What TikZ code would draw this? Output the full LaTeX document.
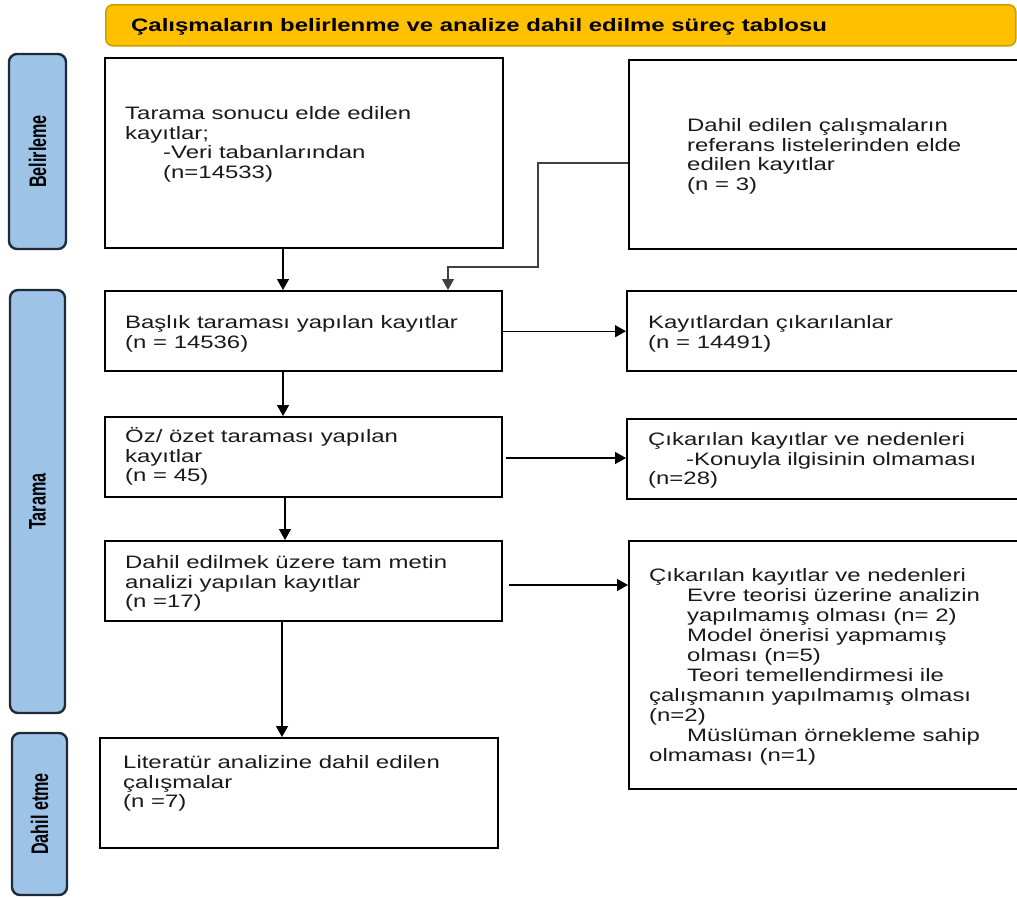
\documentclass[tikz,border=0pt]{standalone}
\usepackage{graphicx}
\usepackage{fontspec}
\setmainfont{Liberation Sans}[FakeStretch=1.33]
\newfontfamily\labfont{Liberation Sans}[FakeStretch=0.9]
\usetikzlibrary{arrows.meta}
\definecolor{gold}{HTML}{FFC000}
\definecolor{goldedge}{HTML}{C9A000}
\definecolor{lblue}{HTML}{9DC3E6}
\definecolor{ledge}{HTML}{1E2A36}
\definecolor{txtc}{HTML}{1A1A1A}
\newcommand{\fl}{\rule{0pt}{17pt}}
\newcommand{\ind}{\hspace*{38pt}}
\tikzset{
  box/.style={draw=black, line width=2.4pt, fill=white, anchor=north west, inner sep=0pt},
  lab/.style={draw=ledge, line width=2.4pt, fill=lblue, rounded corners=8pt, inner sep=0pt},
  titlebox/.style={draw=goldedge, line width=1.6pt, fill=gold, rounded corners=7pt, anchor=north west, inner sep=0pt},
  txt/.style={anchor=north west, inner sep=0pt, align=left, text=txtc, font=\fontsize{18}{19.8}\selectfont},
  arr/.style={line width=1.3pt, -{Triangle[length=11pt,width=12pt]}},
  arrthin/.style={line width=1.1pt, draw=black!75, -{Triangle[length=11pt,width=12pt]}}
}
\begin{document}
\begin{tikzpicture}[x=1pt,y=-1pt]
\useasboundingbox (0,0) rectangle (1017,897);
% title
\node[titlebox, minimum width=910, minimum height=41] (tb) at (105,4) {};
\node[anchor=base west, inner sep=0pt, font=\fontsize{18}{20}\selectfont\bfseries] (tt) at (131,31.5) {Çalışmaların belirlenme ve analize dahil edilme süreç tablosu};
% side labels
\node[lab, minimum width=57, minimum height=195] (l1) at (37.5,151.5) {\rotatebox{90}{\scalebox{1}[1.33]{\labfont\fontsize{18}{20}\selectfont\bfseries Belirleme}}};
\node[lab, minimum width=55, minimum height=423] (l2) at (37.5,501.5) {\rotatebox{90}{\scalebox{1}[1.33]{\labfont\fontsize{18}{20}\selectfont\bfseries Tarama}}};
\node[lab, minimum width=55, minimum height=162] (l3) at (39.5,814) {\rotatebox{90}{\scalebox{1}[1.33]{\labfont\fontsize{18}{20}\selectfont\bfseries Dahil etme}}};
% boxes
\node[box, minimum width=398, minimum height=190] (b1) at (104,57) {};
\node[box, minimum width=394, minimum height=189] (b2) at (628,59) {};
\node[box, minimum width=397, minimum height=80] (b3) at (104,290) {};
\node[box, minimum width=396, minimum height=80] (b4) at (626,290) {};
\node[box, minimum width=397, minimum height=80] (b5) at (104,416) {};
\node[box, minimum width=396, minimum height=80] (b6) at (626,418) {};
\node[box, minimum width=397, minimum height=80] (b7) at (104,540) {};
\node[box, minimum width=394, minimum height=248] (b8) at (628,540) {};
\node[box, minimum width=398, minimum height=110] (b9) at (99,737) {};
% texts
\node[txt] (t1) at (125,102) {\fl Tarama sonucu elde edilen\\kayıtlar;\\\ind -Veri tabanlarından\\\ind (n=14533)};
\node[txt] (t2) at (687,114) {\fl Dahil edilen çalışmaların\\referans listelerinden elde\\edilen kayıtlar\\(n = 3)};
\node[txt] (t3) at (125,311) {\fl Başlık taraması yapılan kayıtlar\\(n = 14536)};
\node[txt] (t4) at (648,311) {\fl Kayıtlardan çıkarılanlar\\(n = 14491)};
\node[txt] (t5) at (125,425) {\fl Öz/ özet taraması yapılan\\kayıtlar\\(n = 45)};
\node[txt] (t6) at (648,428) {\fl Çıkarılan kayıtlar ve nedenleri\\\ind -Konuyla ilgisinin olmaması\\(n=28)};
\node[txt] (t7) at (125,551) {\fl Dahil edilmek üzere tam metin\\analizi yapılan kayıtlar\\(n =17)};
\node[txt, font=\fontsize{18}{20}\selectfont] (t8) at (649,564) {\fl Çıkarılan kayıtlar ve nedenleri\\\ind Evre teorisi üzerine analizin\\\ind yapılmamış olması (n= 2)\\\ind Model önerisi yapmamış\\\ind olması (n=5)\\\ind Teori temellendirmesi ile\\çalışmanın yapılmamış olması\\(n=2)\\\ind Müslüman örnekleme sahip\\olmaması (n=1)};
\node[txt] (t9) at (123,751) {\fl Literatür analizine dahil edilen\\çalışmalar\\(n =7)};
% helper coordinates
\coordinate (xa) at (283,0);
\coordinate (xb) at (285,0);
\coordinate (xc) at (282,0);
\coordinate (y7) at (0,585);
\coordinate (y5) at (0,458);
\coordinate (k0) at (0,163);
\coordinate (k1) at (538,267);
\coordinate (k2) at (448,267);
% connectors
\draw[arr] (b1.south -| xa) -- (b3.north -| xa);
\draw[arr] (b3.south -| xa) -- (b5.north -| xa);
\draw[arr] (b5.south -| xb) -- (b7.north -| xb);
\draw[arr] (b7.south -| xc) -- (b9.north -| xc);
\draw[arr] (b3.east) -- (b4.west);
\draw[arr] ([xshift=3pt]b5.east |- y5) -- (b6.west |- y5);
\draw[arr] ([xshift=6pt]b7.east |- y7) -- (b8.west |- y7);
\draw[arrthin] (b2.west |- k0) -| (k1) -- (k2) -- (b3.north -| k2);
\end{tikzpicture}
\end{document}
